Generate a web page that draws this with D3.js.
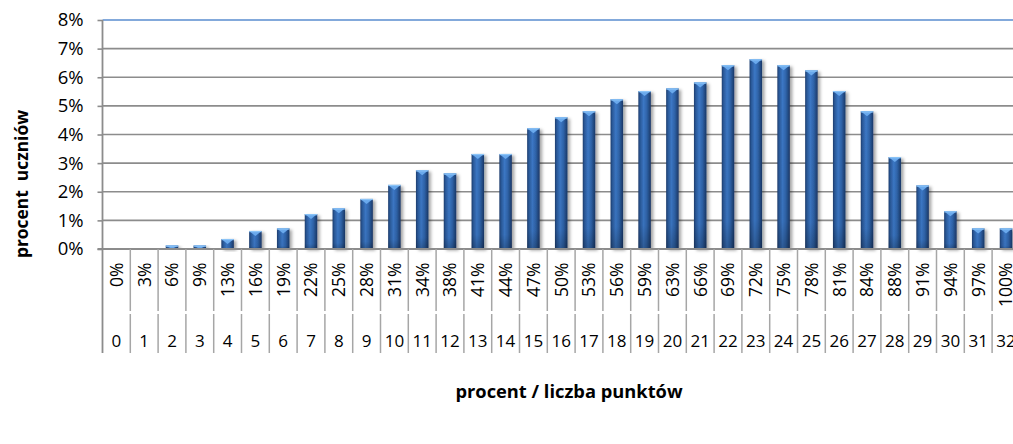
<!DOCTYPE html>
<html>
<head>
<meta charset="utf-8">
<script src="https://cdn.jsdelivr.net/npm/d3@7"></script>
<style>
  body { margin: 0; background: #fff; }
  svg { display: block; font-family: "Open Sans", sans-serif; }
</style>
</head>
<body>
<svg class="chart" width="1013" height="444"></svg>
<script>
// liczba punktów (0..32) and the matching percent of the maximum
const points = [0, 1, 2, 3, 4, 5, 6, 7, 8, 9, 10, 11, 12, 13, 14, 15, 16,
    17, 18, 19, 20, 21, 22, 23, 24, 25, 26, 27, 28, 29, 30, 31, 32];
const pctLabels = ['0%', '3%', '6%', '9%', '13%', '16%', '19%', '22%', '25%', '28%', '31%',
    '34%', '38%', '41%', '44%', '47%', '50%', '53%', '56%', '59%', '63%', '66%', '69%',
    '72%', '75%', '78%', '81%', '84%', '88%', '91%', '94%', '97%', '100%'];
// procent uczniów (in %)
const shares = [0, 0, 0.12, 0.12, 0.35, 0.63, 0.72, 1.22, 1.42, 1.75, 2.24, 2.75, 2.64,
    3.32, 3.32, 4.22, 4.6, 4.81, 5.23, 5.52, 5.61, 5.82, 6.42, 6.63, 6.42, 6.24, 5.52,
    4.81, 3.21, 2.22, 1.32, 0.72, 0.72];
const yTicks = [0, 1, 2, 3, 4, 5, 6, 7, 8];

let svg = d3.select('.chart');
const LEFT = 102.5, TOP = 20, ZERO = 249, BAND = 27.8;
const AXIS_BOTTOM = 353;

let xScale = d3.scaleBand()
    .domain(points)
    .range([LEFT, LEFT + BAND * points.length])
    .padding(0);
let yScale = d3.scaleLinear()
    .domain([0, 8])
    .range([ZERO, TOP]);

let defs = svg.append('defs');
let grad = defs.append('linearGradient')
    .attr('id', 'barGrad')
    .attr('x1', '0%').attr('x2', '100%').attr('y1', '0%').attr('y2', '0%');
[['0%', '#1c3c6e'], ['14%', '#2a5999'], ['42%', '#3c78c6'], ['68%', '#2f64aa'], ['100%', '#1a3867']]
    .forEach(s => grad.append('stop').attr('offset', s[0]).attr('stop-color', s[1]));
let shade = defs.append('linearGradient')
    .attr('id', 'barShade')
    .attr('x1', '0%').attr('x2', '0%').attr('y1', '0%').attr('y2', '100%');
shade.append('stop').attr('offset', '0%').attr('stop-color', '#000').attr('stop-opacity', 0);
shade.append('stop').attr('offset', '85%').attr('stop-color', '#000').attr('stop-opacity', 0.05);
shade.append('stop').attr('offset', '100%').attr('stop-color', '#000').attr('stop-opacity', 0.25);
defs.append('filter')
    .attr('id', 'shadow')
    .attr('x', '-50%').attr('y', '-10%').attr('width', '200%').attr('height', '130%')
    .append('feDropShadow')
    .attr('dx', 2.5).attr('dy', 1.5).attr('stdDeviation', 1.6)
    .attr('flood-color', '#000').attr('flood-opacity', 0.35);

// gridlines
svg.append('g')
    .attr('id', 'grid')
    .selectAll('line')
    .data(yTicks.filter(d => d > 0))
    .join('line')
    .attr('x1', LEFT).attr('x2', 1013)
    .attr('y1', d => yScale(d)).attr('y2', d => yScale(d))
    .attr('stroke', d => d === 8 ? '#5a8ccf' : '#8c8c8c')
    .attr('stroke-width', 1.6);

// y axis
svg.append('g')
    .attr('id', 'y-axis')
    .attr('transform', `translate(${LEFT},0)`)
    .call(d3.axisLeft(yScale).tickValues(yTicks).tickSize(5).tickFormat(d => d + '%'))
    .call(g => g.select('.domain').remove())
    .call(g => g.selectAll('line').attr('stroke', '#8c8c8c').attr('stroke-width', 1.6))
    .call(g => g.selectAll('text')
        .attr('x', -19)
        .attr('fill', '#000')
        .attr('font-size', '18.5px')
        .attr('font-family', '"Open Sans", sans-serif'));

// bars
let bw = BAND * 0.45;
let bars = svg.append('g')
    .attr('id', 'bars')
    .selectAll('g')
    .data(points.map((p, i) => ({p: p, v: shares[i]})).filter(d => d.v > 0))
    .join('g')
    .attr('transform', d => `translate(${xScale(d.p) + (BAND - bw) / 2},${yScale(d.v)})`);
bars.append('rect')
    .attr('width', bw)
    .attr('height', d => ZERO - yScale(d.v))
    .attr('fill', 'url(#barGrad)')
    .attr('filter', 'url(#shadow)');
bars.append('rect')
    .attr('width', bw)
    .attr('height', d => ZERO - yScale(d.v))
    .attr('fill', 'url(#barShade)');
bars.append('path')
    .attr('d', d => {
        let h = Math.min(5, ZERO - yScale(d.v));
        return `M0,0 L${bw},0 L${bw / 2},${h} Z`;
    })
    .attr('fill', '#6aa9ec');
bars.append('rect')
    .attr('width', bw)
    .attr('height', 1.2)
    .attr('fill', '#8cc4f7');

// baseline, left axis and the category separators
svg.append('line')
    .attr('x1', LEFT - 5).attr('x2', 1013)
    .attr('y1', ZERO).attr('y2', ZERO)
    .attr('stroke', '#8c8c8c').attr('stroke-width', 1.8);
svg.append('line')
    .attr('x1', LEFT).attr('x2', LEFT)
    .attr('y1', TOP).attr('y2', AXIS_BOTTOM)
    .attr('stroke', '#8c8c8c').attr('stroke-width', 1.8);
let seps = svg.append('g').attr('id', 'separators');
seps.selectAll('line.lvl1')
    .data(points)
    .join('line')
    .attr('class', 'lvl1')
    .attr('x1', d => xScale(d) + BAND).attr('x2', d => xScale(d) + BAND)
    .attr('y1', ZERO).attr('y2', 311)
    .attr('stroke', '#a6a6a6').attr('stroke-width', 1.5);
seps.selectAll('line.lvl2')
    .data(points)
    .join('line')
    .attr('class', 'lvl2')
    .attr('x1', d => xScale(d) + BAND).attr('x2', d => xScale(d) + BAND)
    .attr('y1', 314).attr('y2', AXIS_BOTTOM)
    .attr('stroke', '#a6a6a6').attr('stroke-width', 1.5);

// category labels: percent (rotated) and number of points
svg.append('g')
    .attr('id', 'pct-labels')
    .selectAll('text')
    .data(points)
    .join('text')
    .attr('transform', d => `translate(${xScale(d) + BAND / 2},262.5) rotate(-90)`)
    .attr('text-anchor', 'end')
    .attr('dy', '0.36em')
    .attr('font-size', '17.5px')
    .text((d, i) => pctLabels[i]);
svg.append('g')
    .attr('id', 'pt-labels')
    .selectAll('text')
    .data(points)
    .join('text')
    .attr('x', d => xScale(d) + BAND / 2)
    .attr('y', 347)
    .attr('text-anchor', 'middle')
    .attr('font-size', '17px')
    .text(d => d);

// axis titles
svg.append('text')
    .attr('transform', 'translate(28,184) rotate(-90)')
    .attr('text-anchor', 'middle')
    .attr('font-weight', 'bold')
    .attr('font-size', '17.4px')
    .attr('xml:space', 'preserve')
    .text('procent  uczniów');
svg.append('text')
    .attr('x', 569)
    .attr('y', 398)
    .attr('text-anchor', 'middle')
    .attr('font-weight', 'bold')
    .attr('font-size', '18.3px')
    .text('procent / liczba punktów');
</script>
</body>
</html>
